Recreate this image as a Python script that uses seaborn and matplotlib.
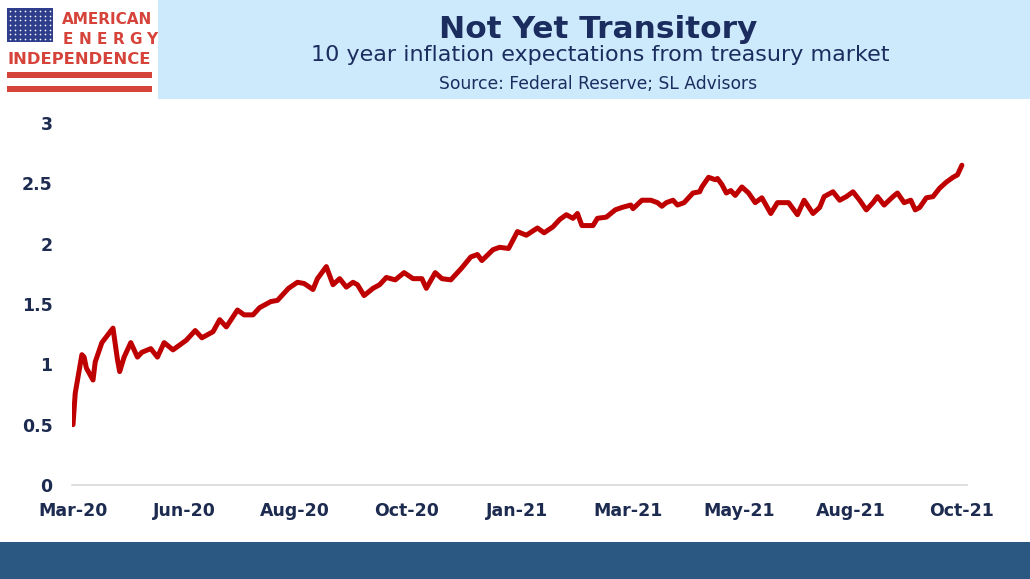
import numpy as np
import pandas as pd
import matplotlib
matplotlib.use("Agg")
import matplotlib.pyplot as plt
from matplotlib.patches import Rectangle
import seaborn as sns

# 10y breakeven (x = trading day since 19-Mar-20)
day = [0, 1, 4, 5, 6, 9, 10, 13, 18, 20, 21, 23, 26, 29, 31, 35, 38, 41, 45, 48,
       51, 55, 58, 63, 66, 69, 74, 77, 81, 84, 89, 92, 97, 101, 104, 108, 110, 114, 117, 120,
       123, 126, 128, 131, 135, 138, 141, 145, 149, 153, 157, 159, 163, 166, 170, 173, 175, 179, 182, 184,
       189, 192, 196, 200, 204, 209, 212, 216, 219, 222, 225, 227, 229, 234, 236, 240, 244, 247, 251, 252,
       256, 260, 263, 265, 267, 270, 272, 275, 279, 282, 283, 286, 289, 290, 292, 294, 296, 298, 301, 304,
       307, 310, 314, 317, 322, 326, 329, 333, 336, 338, 342, 345, 348, 351, 354, 357, 360, 362, 365, 369,
       371, 374, 377, 379, 381, 384, 387, 390, 393, 396, 398, 400]
breakeven = [0.50, 0.76, 1.08, 1.06, 0.97, 0.87, 1.02, 1.18, 1.30, 1.04, 0.94, 1.06, 1.18, 1.06, 1.10, 1.13, 1.06, 1.18, 1.12, 1.16,
             1.20, 1.28, 1.22, 1.27, 1.37, 1.31, 1.45, 1.41, 1.41, 1.47, 1.52, 1.53, 1.63, 1.68, 1.67, 1.62, 1.71, 1.81, 1.66, 1.71,
             1.64, 1.68, 1.66, 1.57, 1.63, 1.66, 1.72, 1.70, 1.76, 1.71, 1.71, 1.63, 1.76, 1.71, 1.70, 1.76, 1.80, 1.89, 1.91, 1.86,
             1.95, 1.97, 1.96, 2.10, 2.07, 2.13, 2.09, 2.14, 2.20, 2.24, 2.21, 2.25, 2.15, 2.15, 2.21, 2.22, 2.28, 2.30, 2.32, 2.29,
             2.36, 2.36, 2.34, 2.31, 2.34, 2.36, 2.32, 2.34, 2.42, 2.43, 2.47, 2.55, 2.53, 2.54, 2.49, 2.42, 2.44, 2.40, 2.47, 2.42,
             2.34, 2.38, 2.25, 2.34, 2.34, 2.24, 2.36, 2.25, 2.30, 2.39, 2.43, 2.36, 2.39, 2.43, 2.36, 2.28, 2.34, 2.39, 2.32, 2.39,
             2.42, 2.34, 2.36, 2.28, 2.30, 2.38, 2.39, 2.46, 2.51, 2.55, 2.57, 2.65]

tick_days = [0, 50, 100, 150, 200, 250, 300, 350, 400]
tick_labels = ["Mar-20", "Jun-20", "Aug-20", "Oct-20", "Jan-21", "Mar-21", "May-21", "Aug-21", "Oct-21"]
y_ticks = [0, 0.5, 1, 1.5, 2, 2.5, 3]

df = pd.DataFrame({"day": day, "breakeven": breakeven})

sns.set_style("white")
plt.rcParams["font.family"] = ["DejaVu Sans"]

navy = "#1c2b4f"
W, H = 1030, 579
fig = plt.figure(figsize=(W / 100, H / 100), dpi=100)

# overlay in pixel coords for header, logo and footer
bg = fig.add_axes([0, 0, 1, 1])
bg.set_xlim(0, W)
bg.set_ylim(H, 0)
bg.axis("off")
bg.add_patch(Rectangle((158, 0), W - 158, 99, color="#cde9fc", lw=0))
bg.add_patch(Rectangle((0, 542), W, H - 542, color="#2b5783", lw=0))

# logo
red = "#d6433a"
bg.add_patch(Rectangle((7, 8), 46, 34, color="#2e3d8c", lw=0))
sx, sy = np.meshgrid(np.linspace(10, 50, 9), np.linspace(11, 39, 7))
bg.scatter(sx.ravel(), sy.ravel(), s=1.5, color="white", lw=0)
bg.add_patch(Rectangle((7, 72), 145, 5.5, color=red, lw=0))
bg.add_patch(Rectangle((7, 86), 145, 5.5, color=red, lw=0))
bg.text(152, 23.5, "AMERICAN", ha="right", va="baseline", color=red,
        fontsize=11, fontweight="bold")
for i, ch in enumerate("ENERGY"):
    bg.text(68 + i * 16.8, 43.5, ch, ha="center", va="baseline", color=red,
            fontsize=11, fontweight="bold")
bg.text(79.5, 64.5, "INDEPENDENCE", ha="center", va="baseline", color=red,
        fontsize=11.8, fontweight="bold")

# titles
bg.text(598, 38, "Not Yet Transitory", ha="center", va="baseline", color="#1b2d5e",
        fontsize=22.5, fontweight="bold")
bg.text(600, 61, "10 year inflation expectations from treasury market", ha="center",
        va="baseline", color="#1b2d5e", fontsize=16)
bg.text(598, 89, "Source: Federal Reserve; SL Advisors", ha="center", va="baseline",
        color="#1b2d5e", fontsize=12.3)

# main chart
ax = fig.add_axes([72 / W, 1 - 485 / H, (967 - 72) / W, (485 - 123) / H])
sns.lineplot(data=df, x="day", y="breakeven", ax=ax, color="#bf0000", lw=3.6)
ax.set_xlim(-0.45, 402.3)
ax.set_ylim(0, 3)
ax.set_xticks(tick_days)
ax.set_xticklabels(tick_labels)
ax.set_yticks(y_ticks)
ax.set_yticklabels([f"{v:g}" for v in y_ticks])
ax.set_xlabel("")
ax.set_ylabel("")
for s in ["top", "left", "right"]:
    ax.spines[s].set_visible(False)
ax.spines["bottom"].set_color("#d9d9d9")
ax.spines["bottom"].set_linewidth(1.2)
ax.tick_params(axis="both", length=0, labelsize=12.5, labelcolor=navy)
ax.tick_params(axis="x", pad=12)
ax.tick_params(axis="y", pad=14)
for lab in ax.get_xticklabels() + ax.get_yticklabels():
    lab.set_fontweight("bold")
ax.patch.set_alpha(0)

fig.savefig("out.png", dpi=100)
